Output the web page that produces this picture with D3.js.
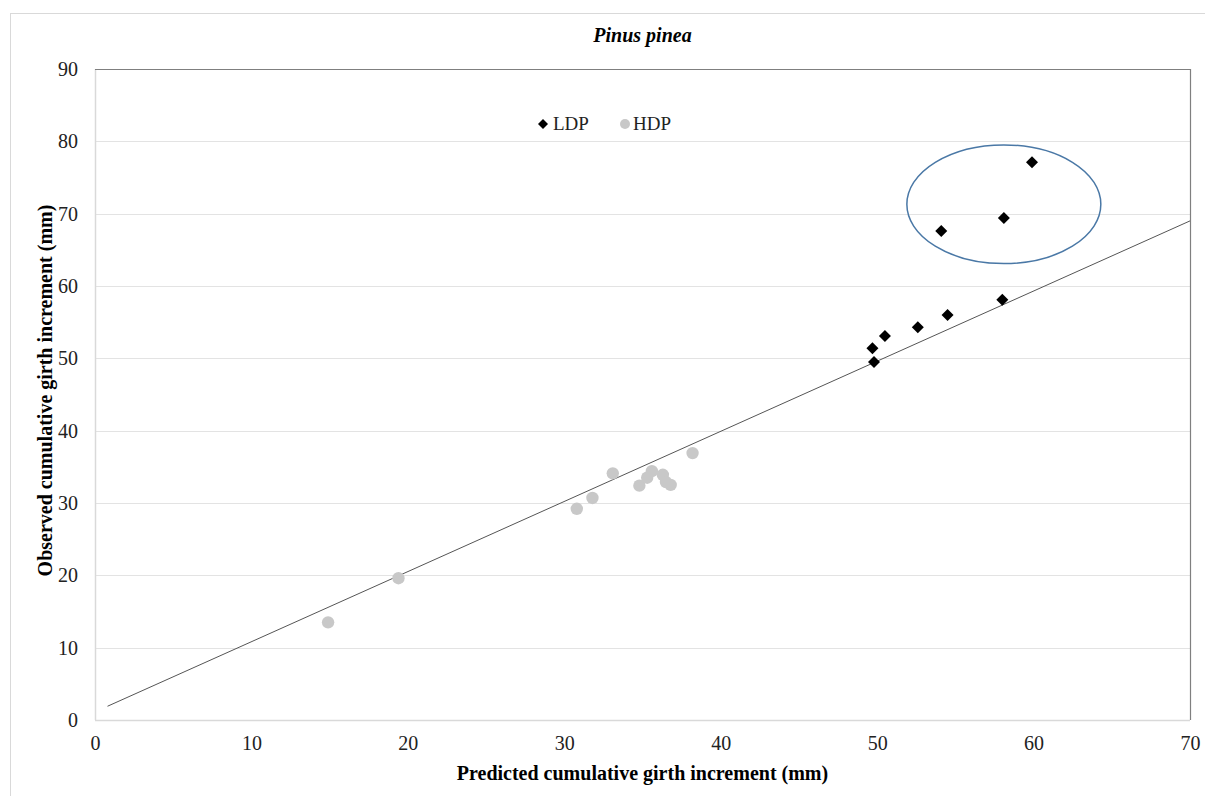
<!DOCTYPE html>
<html>
<head>
<meta charset="utf-8">
<script src="https://cdn.jsdelivr.net/npm/d3@7"></script>
<style>
  body { margin: 0; background: #fff; }
  svg { display: block; font-family: "Liberation Serif", "DejaVu Serif", serif; }
</style>
</head>
<body>
<script>
// LDP (low density plots) - predicted vs observed
const ldpPredicted = [49.7, 49.8, 50.5, 52.6, 54.5, 58.0, 54.1, 58.1, 59.9];
const ldpObserved  = [51.4, 49.5, 53.1, 54.3, 56.0, 58.1, 67.6, 69.4, 77.1];

// HDP (high density plots)
const hdpPredicted = [14.9, 19.4, 30.8, 31.8, 33.1, 34.8, 35.3, 35.6, 36.3, 36.5, 36.8, 38.2];
const hdpObserved  = [13.5, 19.6, 29.2, 30.7, 34.1, 32.4, 33.5, 34.4, 33.9, 32.9, 32.5, 36.9];

// reference line
const fitX = [0.8, 70];
const fitY = [1.9, 69.0];

const xTicks = [0, 10, 20, 30, 40, 50, 60, 70];
const yTicks = [0, 10, 20, 30, 40, 50, 60, 70, 80, 90];

// highlighted group (ellipse centre and radii, data units)
const ellipseCenter = [58.1, 71.3];
const ellipseRadius = [6.2, 8.2];

const serif = '"Liberation Serif", "DejaVu Serif", serif';

const svgWidth = 1205;
const svgHeight = 796;
const margin = { top: 69, right: 15, bottom: 76, left: 95 };
const width = svgWidth - margin.left - margin.right;
const height = svgHeight - margin.top - margin.bottom;

const root = d3.select('body')
    .append('svg')
    .attr('width', svgWidth)
    .attr('height', svgHeight);

// outer chart frame
root.append('rect')
    .attr('x', 10.5)
    .attr('y', 13.5)
    .attr('width', svgWidth)
    .attr('height', svgHeight)
    .attr('fill', 'none')
    .attr('stroke', '#d9d9d9');

const svg = root.append('g')
    .attr('transform', `translate(${margin.left}, ${margin.top})`);

const x = d3.scaleLinear().domain([0, 70]).range([0, width]);
const y = d3.scaleLinear().domain([0, 90]).range([height, 0]);

// gridlines
svg.append('g')
    .selectAll('line')
    .data(yTicks)
    .enter()
    .append('line')
    .attr('x1', 0)
    .attr('x2', width)
    .attr('y1', d => Math.round(y(d)) + 0.5)
    .attr('y2', d => Math.round(y(d)) + 0.5)
    .attr('stroke', '#e3e3e3')
    .attr('stroke-width', 1.2);

// axis lines (light) and top/right border (darker)
svg.append('line')
    .attr('x1', 0.5).attr('x2', 0.5)
    .attr('y1', 0).attr('y2', height)
    .attr('stroke', '#d9d9d9').attr('stroke-width', 1.5);
svg.append('line')
    .attr('x1', 0).attr('x2', width)
    .attr('y1', height + 0.5).attr('y2', height + 0.5)
    .attr('stroke', '#d9d9d9').attr('stroke-width', 1.5);
svg.append('line')
    .attr('x1', 0).attr('x2', width)
    .attr('y1', 0.5).attr('y2', 0.5)
    .attr('stroke', '#7f7f7f').attr('stroke-width', 1.2);
svg.append('line')
    .attr('x1', width + 0.5).attr('x2', width + 0.5)
    .attr('y1', 0).attr('y2', height)
    .attr('stroke', '#7f7f7f').attr('stroke-width', 1.2);

// tick labels
const xAxis = svg.append('g')
    .attr('transform', `translate(0,${height})`)
    .call(d3.axisBottom(x).tickValues(xTicks).tickSize(0).tickPadding(16).tickFormat(d3.format('d')))
    .attr('font-family', serif)
    .attr('font-size', 20);
xAxis.select('.domain').remove();
xAxis.selectAll('text').style('fill', '#222');

const yAxis = svg.append('g')
    .call(d3.axisLeft(y).tickValues(yTicks).tickSize(0).tickPadding(17).tickFormat(d3.format('d')))
    .attr('font-family', serif)
    .attr('font-size', 20);
yAxis.select('.domain').remove();
yAxis.selectAll('text').style('fill', '#222');

// reference line
svg.append('line')
    .attr('x1', x(fitX[0]))
    .attr('y1', y(fitY[0]))
    .attr('x2', x(fitX[1]))
    .attr('y2', y(fitY[1]))
    .attr('stroke', '#555')
    .attr('stroke-width', 1);

// HDP points
svg.selectAll('.hdp')
    .data(hdpPredicted)
    .enter()
    .append('circle')
    .attr('class', 'hdp')
    .attr('cx', d => x(d))
    .attr('cy', (d, i) => y(hdpObserved[i]))
    .attr('r', 6.2)
    .attr('fill', '#c8c8c8');

// LDP points
const diamond = d3.symbol().type(d3.symbolSquare).size(72);
svg.selectAll('.ldp')
    .data(ldpPredicted)
    .enter()
    .append('path')
    .attr('class', 'ldp')
    .attr('d', diamond)
    .attr('transform', (d, i) => `translate(${x(d)},${y(ldpObserved[i])}) rotate(45)`)
    .attr('fill', '#000');

// ellipse around the outlying LDP points
svg.append('ellipse')
    .attr('cx', x(ellipseCenter[0]))
    .attr('cy', y(ellipseCenter[1]))
    .attr('rx', x(ellipseRadius[0]) - x(0))
    .attr('ry', y(0) - y(ellipseRadius[1]))
    .attr('fill', 'none')
    .attr('stroke', '#4a78a6')
    .attr('stroke-width', 1.5);

// legend
const legend = svg.append('g').attr('transform', 'translate(448, 55)');
legend.append('path')
    .attr('d', d3.symbol().type(d3.symbolSquare).size(50))
    .attr('transform', 'rotate(45)')
    .attr('fill', '#000');
legend.append('text')
    .attr('x', 10)
    .attr('y', 6)
    .style('font-size', '19px')
    .style('fill', '#222')
    .text('LDP');
legend.append('circle')
    .attr('cx', 82)
    .attr('cy', 0)
    .attr('r', 5)
    .attr('fill', '#c8c8c8');
legend.append('text')
    .attr('x', 90)
    .attr('y', 6)
    .style('font-size', '19px')
    .style('fill', '#222')
    .text('HDP');

// title
svg.append('text')
    .attr('x', width / 2)
    .attr('y', -27)
    .attr('text-anchor', 'middle')
    .style('font-size', '20px')
    .style('font-weight', 'bold')
    .style('font-style', 'italic')
    .text('Pinus pinea');

// axis titles
svg.append('text')
    .attr('x', width / 2)
    .attr('y', height + 60)
    .attr('text-anchor', 'middle')
    .style('font-size', '20px')
    .style('font-weight', 'bold')
    .text('Predicted cumulative girth increment (mm)');

svg.append('text')
    .attr('transform', `translate(-43, ${height / 2 - 4}) rotate(-90)`)
    .attr('text-anchor', 'middle')
    .style('font-size', '20px')
    .style('font-weight', 'bold')
    .text('Observed cumulative girth increment (mm)');
</script>
</body>
</html>
